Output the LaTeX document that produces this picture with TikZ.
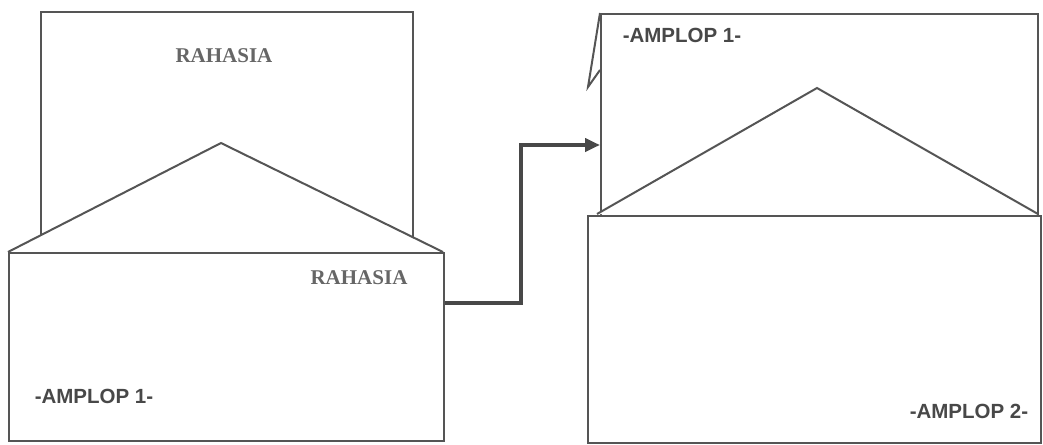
\documentclass[tikz,border=0pt]{standalone}
\usepackage{fontspec}
\setmainfont{Liberation Serif}
\setsansfont{Liberation Sans}
\usetikzlibrary{arrows.meta}
\definecolor{linegray}{HTML}{555555}
\definecolor{textgray}{HTML}{484848}
\definecolor{stampgray}{HTML}{666666}
\begin{document}
\begin{tikzpicture}[x=1pt,y=-1pt,
  outline/.style={draw=linegray,line width=2pt,fill=white,line join=miter},
  sheet/.style={outline,rectangle,inner sep=0pt,anchor=north west},
  stamp/.style={font=\rmfamily\bfseries\fontsize{21}{21}\selectfont,text=stampgray,inner sep=0pt},
  label/.style={font=\sffamily\bfseries\fontsize{20.5}{21}\selectfont,text=textgray,inner sep=0pt},
  conn/.style={draw=linegray!85!black,line width=4pt,-{Triangle[length=15pt,width=13pt]}}]
\useasboundingbox (0,0) rectangle (1043,444);
% ---------- left envelope ----------
\node[sheet,minimum width=372pt,minimum height=240pt] (letterA) at (40,11) {};
\draw[outline] (8,252) -- (221,143) -- (443,252);
\node[sheet,minimum width=435pt,minimum height=188pt] (bodyA) at (8,252) {};
\node[stamp] (stampA) at (224,56) {RAHASIA};
\node[stamp] (stampB) at (359,278) {RAHASIA};
\node[label] (labA) at (94,396) {-AMPLOP 1-};
% ---------- right envelope ----------
\draw[outline] (600,13) -- (588,87) -- (600,70);
\node[sheet,minimum width=437pt,minimum height=205pt] (letterB) at (600,13) {};
\draw[outline] (597,214) -- (817,88) -- (1038,214);
\node[sheet,minimum width=453pt,minimum height=227pt] (bodyB) at (587,215) {};
\node[label] (labB) at (682,35) {-AMPLOP 1-};
\node[label] (labC) at (969,411) {-AMPLOP 2-};
% ---------- connector ----------
\coordinate (start) at (bodyA.east |- 0,303);
\coordinate (tip) at (letterB.west |- 0,145);
\draw[conn] (start) -- (521,303) -- (521,145) -- (tip);
\end{tikzpicture}
\end{document}
